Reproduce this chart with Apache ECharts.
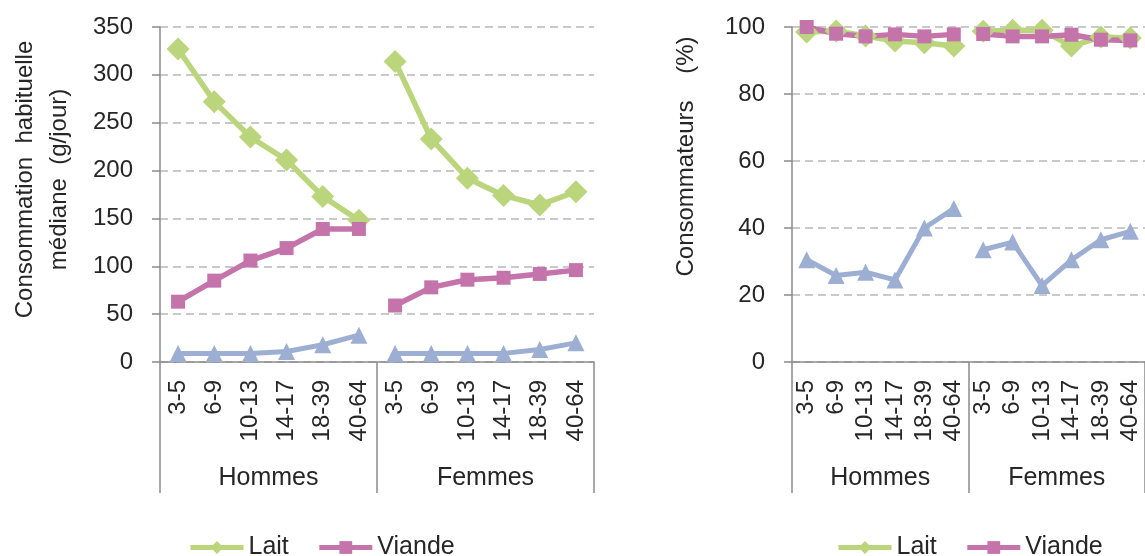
<!DOCTYPE html>
<html>
<head>
<meta charset="utf-8">
<script src="https://cdn.jsdelivr.net/npm/echarts@6/dist/echarts.min.js"></script>
<style>
html,body{margin:0;padding:0;background:#fff;}
#c{width:1145px;height:556px;}
</style>
</head>
<body>
<div id="c"></div>
<script>
// ---- data ----
const ageGroups = ['3-5', '6-9', '10-13', '14-17', '18-39', '40-64'];
const sexGroups = ['Hommes', 'Femmes'];

// Left panel: median usual consumption (g/day)
const laitGHommes   = [327, 272, 235, 211, 173, 148];
const laitGFemmes   = [314, 233, 192, 174, 164, 178];
const viandeGHommes = [63, 85, 106, 119, 139, 139];
const viandeGFemmes = [59, 78, 86, 88, 92, 96];
const autreGHommes  = [9, 9, 9, 11, 18, 28];
const autreGFemmes  = [9, 9, 9, 9, 13, 20];

// Right panel: consumers (%)
const laitPHommes   = [98.5, 98.8, 97.3, 95.8, 95.3, 94.3];
const laitPFemmes   = [98.7, 99, 99, 94.3, 97, 96.7];
const viandePHommes = [100, 98, 97.2, 97.8, 97.2, 97.8];
const viandePFemmes = [97.9, 97.2, 97.2, 97.7, 96.2, 96];
const autrePHommes  = [30.5, 25.8, 26.8, 24.5, 40, 45.8];
const autrePFemmes  = [33.5, 35.8, 22.8, 30.5, 36.5, 39];

const yTicksLeft = {min: 0, max: 350, interval: 50};
const yTicksRight = {min: 0, max: 100, interval: 20};

// ---- styles ----
const FONT = '"Liberation Sans", Arial, sans-serif';
const TXT = '#262626';
const AX = '#8a8a8a';
const GREEN = '#BAD57C';
const PINK = '#C474AA';
const BLUE = '#9CAFD3';

const fullCats = [];
sexGroups.forEach(function (g) { ageGroups.forEach(function (a) { fullCats.push(g + '|' + a); }); });
const pad = [null, null, null, null, null, null];

function xAxes(gi) {
  return [{
    gridIndex: gi, type: 'category', data: fullCats, boundaryGap: true,
    axisLine: {lineStyle: {color: AX, width: 1.5}},
    axisTick: {interval: 0, length: 85, lineStyle: {color: AX, width: 1.5}},
    axisLabel: {interval: 0, rotate: 90, margin: 18, fontSize: 24, color: TXT, fontFamily: FONT,
      formatter: function (v) { return v.split('|')[1]; }},
    splitLine: {show: false}
  }, {
    gridIndex: gi, type: 'category', data: sexGroups, position: 'bottom', boundaryGap: true,
    axisLine: {show: false},
    axisTick: {show: true, interval: 0, length: 131, lineStyle: {color: AX, width: 1.5}},
    axisLabel: {interval: 0, margin: 104, fontSize: 25, color: TXT, fontFamily: FONT},
    splitLine: {show: false}
  }];
}

function yAxis(gi, t, name, nameGap, shift, lh) {
  return {
    gridIndex: gi, type: 'value', min: t.min, max: t.max, interval: t.interval,
    name: name, nameLocation: 'middle', nameGap: nameGap, nameRotate: 90,
    nameTextStyle: {fontSize: 24, color: TXT, fontFamily: FONT, lineHeight: lh, padding: [0, 0, 0, shift]},
    axisLine: {show: true, lineStyle: {color: AX, width: 1.5}},
    axisTick: {show: true, length: 8, lineStyle: {color: AX, width: 1.5}},
    axisLabel: {margin: 27, fontSize: 24, color: TXT, fontFamily: FONT},
    splitLine: {show: true, lineStyle: {color: '#b8b8b8', width: 1.5, type: [8, 5]}}
  };
}

function line(name, data, xi, yi, symbol, size, color, width) {
  return {
    name: name, type: 'line', xAxisIndex: xi, yAxisIndex: yi, data: data,
    symbol: symbol, symbolSize: size, showSymbol: true, connectNulls: false,
    lineStyle: {color: color, width: width},
    itemStyle: {color: color},
    emphasis: {disabled: true}, animation: false
  };
}

function panelSeries(xi, yi, lH, lF, vH, vF, aH, aF) {
  return [
    line('Lait', lH.concat(pad), xi, yi, 'diamond', 23, GREEN, 5.5),
    line('Lait', pad.concat(lF), xi, yi, 'diamond', 23, GREEN, 5.5),
    line('Viande', vH.concat(pad), xi, yi, 'rect', 14, PINK, 5.5),
    line('Viande', pad.concat(vF), xi, yi, 'rect', 14, PINK, 5.5),
    line('Autre', aH.concat(pad), xi, yi, 'triangle', 17, BLUE, 5),
    line('Autre', pad.concat(aF), xi, yi, 'triangle', 17, BLUE, 5)
  ];
}

const legendBase = {
  data: ['Lait', 'Viande'], top: 530, itemWidth: 53, itemHeight: 16, itemGap: 28,
  lineStyle: {width: 5},
  textStyle: {fontSize: 25, color: TXT, fontFamily: FONT}, selectedMode: false
};

const option = {
  animation: false,
  backgroundColor: '#fff',
  grid: [
    {left: 160, top: 27, width: 434, height: 335},
    {left: 792, top: 27, width: 359, height: 335}
  ],
  xAxis: xAxes(0).concat(xAxes(1)),
  yAxis: [
    yAxis(0, yTicksLeft, 'Consommation  habituelle\nmédiane  (g/jour)', 84, 30, 34),
    yAxis(1, yTicksRight, 'Consommateurs    (%)', 93, 76, 26)
  ],
  legend: [
    Object.assign({left: 183}, legendBase),
    Object.assign({left: 831}, legendBase)
  ],
  series: panelSeries(0, 0, laitGHommes, laitGFemmes, viandeGHommes, viandeGFemmes, autreGHommes, autreGFemmes)
    .concat(panelSeries(2, 1, laitPHommes, laitPFemmes, viandePHommes, viandePFemmes, autrePHommes, autrePFemmes))
};

const chart = echarts.init(document.getElementById('c'), null, {renderer: 'canvas'});
chart.setOption(option);
</script>
</body>
</html>
